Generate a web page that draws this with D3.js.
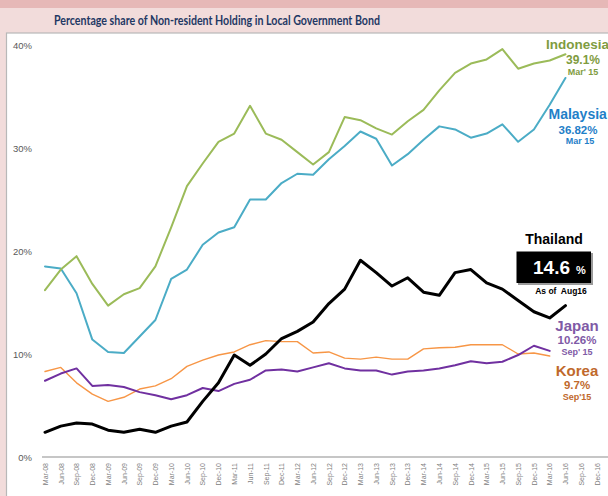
<!DOCTYPE html>
<html><head><meta charset="utf-8">
<script src="https://cdn.jsdelivr.net/npm/d3@7"></script>
<style>html,body{margin:0;padding:0;background:#f2dcdb;}svg{display:block;}</style>
</head><body>
<svg id="c" width="608" height="496"></svg>
<script>
const quarters = ["Mar-08","Jun-08","Sep-08","Dec-08","Mar-09","Jun-09","Sep-09","Dec-09","Mar-10","Jun-10","Sep-10","Dec-10","Mar-11","Jun-11","Sep-11","Dec-11","Mar-12","Jun-12","Sep-12","Dec-12","Mar-13","Jun-13","Sep-13","Dec-13","Mar-14","Jun-14","Sep-14","Dec-14","Mar-15","Jun-15","Sep-15","Dec-15","Mar-16","Jun-16","Sep-16","Dec-16"];
const yTicks = [0, 10, 20, 30, 40];
const indonesia = [16.2,18.2,19.5,16.8,14.7,15.8,16.4,18.5,22.3,26.3,28.5,30.6,31.4,34.1,31.4,30.8,29.6,28.4,29.6,33.0,32.7,31.9,31.3,32.6,33.7,35.6,37.3,38.2,38.6,39.6,37.7,38.2,38.5,39.1];
const malaysia = [18.5,18.3,15.9,11.4,10.2,10.1,11.7,13.3,17.3,18.2,20.6,21.8,22.3,25.0,25.0,26.6,27.5,27.4,28.9,30.2,31.6,30.9,28.3,29.4,30.8,32.1,31.8,31.0,31.4,32.3,30.6,31.8,34.2,36.8];
const thailand = [2.4,3.0,3.3,3.2,2.6,2.4,2.7,2.4,3.0,3.4,5.4,7.2,9.9,8.9,10.0,11.5,12.2,13.1,14.9,16.3,19.1,17.9,16.6,17.4,16.0,15.7,17.9,18.2,16.9,16.3,15.2,14.1,13.5,14.7];
const japan = [7.4,8.1,8.6,6.9,7.0,6.8,6.3,6.0,5.6,6.0,6.7,6.4,7.1,7.5,8.4,8.5,8.3,8.7,9.1,8.6,8.4,8.4,8.0,8.3,8.4,8.6,8.9,9.3,9.1,9.25,9.9,10.8,10.3];
const korea = [8.3,8.7,7.2,6.1,5.4,5.8,6.6,6.9,7.6,8.8,9.4,9.9,10.2,10.9,11.3,11.2,11.2,10.1,10.2,9.6,9.5,9.7,9.5,9.5,10.5,10.6,10.65,10.9,10.9,10.9,10.0,10.1,9.8];

const svg = d3.select("#c");
const W = 608, H = 496;
svg.append("rect").attr("x",0).attr("y",0).attr("width",W).attr("height",H).attr("fill","#f2dcdb");
svg.append("rect").attr("x",0).attr("y",0).attr("width",W).attr("height",8).attr("fill","#e6b8b7");
svg.append("text").attr("x",54).attr("y",25).text("Percentage share of Non-resident Holding in Local Government Bond")
  .attr("font-family","Lato, 'Open Sans', sans-serif").attr("font-weight","bold").attr("font-size",13)
  .attr("fill","#1f3864").attr("textLength",326).attr("lengthAdjust","spacingAndGlyphs");
svg.append("rect").attr("x",6.5).attr("y",33).attr("width",W).attr("height",H).attr("fill","#ffffff")
  .attr("stroke","#b8b8b8").attr("stroke-width",1.2);

const x = d3.scalePoint().domain(quarters).range([45, 597]);
const y = d3.scaleLinear().domain([0, 40]).range([457, 45]);

const yAxis = d3.axisLeft(y).tickValues(yTicks).tickFormat(d => d + "%").tickSize(0).tickPadding(0);
const gy = svg.append("g").attr("transform","translate(32,0)").call(yAxis);
gy.select(".domain").remove();
gy.selectAll("text").attr("font-family","'Liberation Sans', Arial, sans-serif").attr("font-size",9.5).attr("fill","#595959");

const xAxis = d3.axisBottom(x).tickSize(0).tickPadding(0);
const gx = svg.append("g").attr("transform","translate(0,457)").call(xAxis);
gx.select(".domain").remove();
svg.append("line").attr("x1",42).attr("x2",W).attr("y1",457).attr("y2",457).attr("stroke","#c6c6c6").attr("stroke-width",2);
gx.selectAll("text").attr("font-family","'Liberation Sans', Arial, sans-serif").attr("font-size",7).attr("fill","#808080")
  .attr("text-anchor","end").attr("dy","0.32em").attr("dx",0)
  .attr("transform","translate(0,6) rotate(-90)").attr("y",0).attr("x",0);

const series = [
  {name:"Korea", data:korea, color:"#f79646", w:1.4},
  {name:"Japan", data:japan, color:"#7030a0", w:2},
  {name:"Malaysia", data:malaysia, color:"#4bacc6", w:2},
  {name:"Indonesia", data:indonesia, color:"#9bbb59", w:2},
  {name:"Thailand", data:thailand, color:"#000000", w:3}
];
const line = d3.line().x((d,i) => x(quarters[i])).y(d => y(d)).defined(d => d != null);
series.forEach(s => {
  svg.append("path").attr("d", line(s.data)).attr("fill","none").attr("stroke",s.color)
    .attr("stroke-width",s.w).attr("stroke-linejoin","round").attr("stroke-linecap","round");
});

const F = "'Liberation Sans', Arial, sans-serif";
function t(txt, xx, yy, size, color, anchor){
  return svg.append("text").attr("x",xx).attr("y",yy).text(txt).attr("font-family",F).attr("font-weight","bold")
    .attr("font-size",size).attr("fill",color).attr("text-anchor",anchor||"middle");
}
t("Indonesia", 546, 49, 13.5, "#7f9c3f", "start");
t("39.1%", 583, 64, 12, "#7f9c3f");
t("Mar' 15", 583, 75, 9, "#7f9c3f");
t("Malaysia", 548.5, 119, 14, "#1f80c8", "start");
t("36.82%", 578, 133.5, 11.5, "#1f80c8");
t("Mar 15", 580, 144, 9, "#1f80c8");
t("Thailand", 554, 243.5, 14, "#000000");
svg.append("rect").attr("x",518).attr("y",253).attr("width",75).attr("height",32).attr("fill","#9a9a9a");
svg.append("rect").attr("x",516.5).attr("y",251.5).attr("width",74.5).attr("height",31.5).attr("fill","#000000");
const bt = svg.append("text").attr("x",533).attr("y",274).attr("font-family",F).attr("font-weight","bold").attr("fill","#ffffff");
bt.append("tspan").attr("font-size",19).text("14.6");
bt.append("tspan").attr("font-size",11).attr("dx",6).text("%");
t("As of  Aug16", 561, 294, 8.5, "#000000").attr("xml:space","preserve");
t("Japan", 577, 331, 15, "#7f5aa6");
t("10.26%", 577, 344, 11.5, "#7f5aa6");
t("Sep' 15", 577, 355, 9, "#7f5aa6");
t("Korea", 577, 376, 15, "#c0692c");
t("9.7%", 577, 389, 11.5, "#c0692c");
t("Sep'15", 577, 399.5, 9, "#c0692c");
</script>
</body></html>
